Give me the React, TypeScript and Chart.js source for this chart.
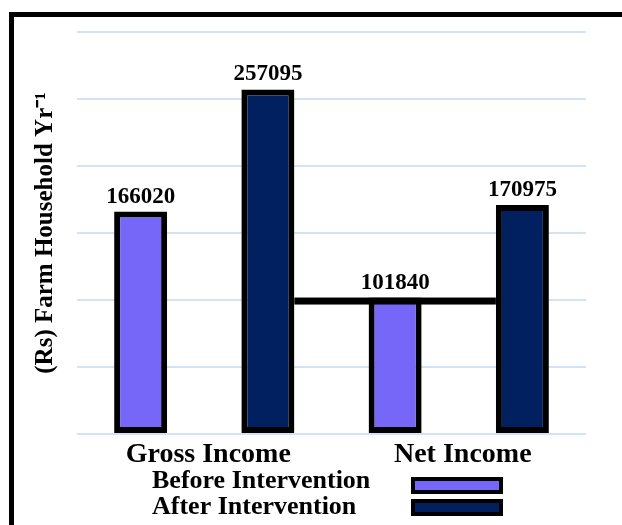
import React, { useEffect, useRef } from "react";
import { Chart, registerables } from "chart.js";

Chart.register(...registerables);

const categories = ["Gross Income", "Net Income"];
const seriesLabels = ["Before Intervention", "After Intervention"];
const beforeValues = [166020, 101840];
const afterValues = [257095, 170975];
const yMax = 300000;
const yStep = 50000;
const yTitle = "(Rs) Farm Household Yr\u207B\u00B9";

const SERIF = '"Liberation Serif", "Times New Roman", serif';
const BEFORE_COLOR = "#7767F8";
const AFTER_COLOR = "#002060";
const GRID_COLOR = "#D5E1F4";

const connectorPlugin = {
  id: "connector",
  afterDatasetsDraw(chart: any) {
    const m0 = chart.getDatasetMeta(0);
    const m1 = chart.getDatasetMeta(1);
    const a = m1.data[0];
    const b = m1.data[1];
    const n = m0.data[1];
    if (!a || !b || !n) return;
    const x1 = a.x + a.width / 2;
    const x2 = b.x - b.width / 2;
    const ctx = chart.ctx;
    ctx.save();
    ctx.fillStyle = "#000";
    ctx.fillRect(x1, n.y, x2 - x1, 7);
    ctx.restore();
  },
};

const valueLabelPlugin = {
  id: "valueLabels",
  afterDatasetsDraw(chart: any) {
    const ctx = chart.ctx;
    ctx.save();
    ctx.font = `bold 23px ${SERIF}`;
    ctx.textAlign = "center";
    ctx.textBaseline = "alphabetic";
    chart.data.datasets.forEach((ds: any, di: number) => {
      const meta = chart.getDatasetMeta(di);
      meta.data.forEach((el: any, i: number) => {
        const text = String(ds.data[i]);
        const base = el.y - 9;
        const w = ctx.measureText(text).width + 40;
        ctx.fillStyle = "#fff";
        ctx.fillRect(el.x - w / 2, base - 22, w, 29);
        ctx.fillStyle = "#000";
        ctx.fillText(text, el.x, base);
      });
    });
    ctx.restore();
  },
};

const legendPlugin = {
  id: "customLegend",
  afterDraw(chart: any) {
    const ctx = chart.ctx;
    const area = chart.chartArea;
    ctx.save();
    ctx.font = `bold 26px ${SERIF}`;
    ctx.textAlign = "left";
    ctx.textBaseline = "alphabetic";
    chart.data.datasets.forEach((ds: any, i: number) => {
      const baseline = area.bottom + 54 + i * 26;
      ctx.fillStyle = "#000";
      ctx.fillText(ds.label, area.left + 75, baseline);
      const sx = area.left + 334;
      const sy = area.bottom + 43 + i * 22;
      const w = 92;
      const h = 17;
      ctx.fillStyle = "#000";
      ctx.fillRect(sx, sy, w, h);
      ctx.fillStyle = ds.backgroundColor;
      ctx.fillRect(sx + 4, sy + 4, w - 8, h - 8);
    });
    ctx.restore();
  },
};

export default function App() {
  const ref = useRef<HTMLCanvasElement | null>(null);

  useEffect(() => {
    if (!ref.current) return;
    const chart = new Chart(ref.current, {
      type: "bar",
      data: {
        labels: categories,
        datasets: [
          {
            label: seriesLabels[0],
            data: beforeValues,
            backgroundColor: BEFORE_COLOR,
            borderColor: "#000",
            borderWidth: 6,
            borderSkipped: false,
            barPercentage: 0.4165,
            categoryPercentage: 1,
          },
          {
            label: seriesLabels[1],
            data: afterValues,
            backgroundColor: AFTER_COLOR,
            borderColor: "#000",
            borderWidth: 6,
            borderSkipped: false,
            barPercentage: 0.4165,
            categoryPercentage: 1,
          },
        ],
      },
      options: {
        responsive: false,
        animation: false,
        devicePixelRatio: 1,
        layout: { padding: { top: 24, right: 36, left: 0, bottom: 0 } },
        plugins: {
          legend: { display: false },
          tooltip: { enabled: false },
        },
        scales: {
          x: {
            grid: { display: false },
            border: { display: false },
            ticks: {
              color: "#000",
              font: { family: SERIF, size: 28, weight: "bold" },
              padding: -4,
              labelOffset: 4,
            },
            afterFit: (s: any) => {
              s.height = 91;
            },
          },
          y: {
            min: 0,
            max: yMax,
            ticks: { display: false, stepSize: yStep },
            grid: { color: GRID_COLOR, lineWidth: 2, drawTicks: false },
            border: { display: false },
            title: {
              display: true,
              text: yTitle,
              color: "#000",
              font: { family: SERIF, size: 25, weight: "bold" },
              padding: { top: 23, bottom: 0 },
            },
            afterFit: (s: any) => {
              s.width = 69;
            },
          },
        },
      } as any,
      plugins: [connectorPlugin, valueLabelPlugin, legendPlugin],
    });
    return () => chart.destroy();
  }, []);

  return (
    <div
      style={{
        position: "fixed",
        left: 0,
        top: 0,
        width: 622,
        height: 525,
        overflow: "hidden",
        background: "#fff",
      }}
    >
      <div
        style={{
          position: "absolute",
          left: 9,
          top: 12,
          width: 800,
          height: 800,
          border: "5px solid #000",
        }}
      />
      <canvas
        ref={ref}
        width={614}
        height={517}
        style={{ position: "absolute", left: 8, top: 8, display: "block" }}
      />
    </div>
  );
}
